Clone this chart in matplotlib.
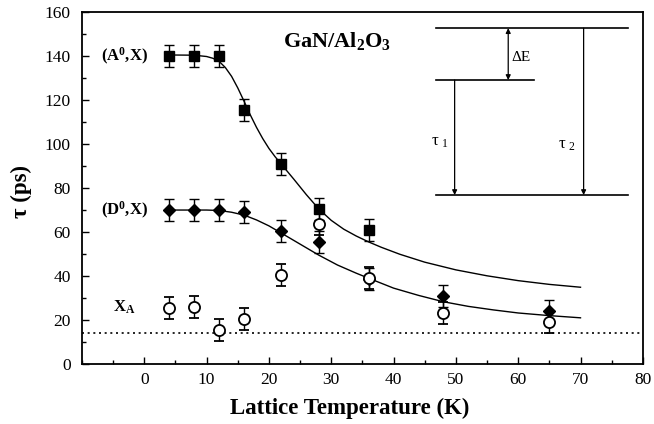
import matplotlib
matplotlib.use("Agg")
import matplotlib.pyplot as plt
from matplotlib.ticker import MultipleLocator, FixedLocator

plt.rcParams['font.family'] = ['Liberation Serif', 'DejaVu Serif']
plt.rcParams['mathtext.fontset'] = 'custom'
plt.rcParams['mathtext.rm'] = 'Liberation Serif'
plt.rcParams['mathtext.it'] = 'Liberation Serif:italic'
plt.rcParams['mathtext.bf'] = 'Liberation Serif:bold'

# ---- data ----
T_A = [4, 8, 12, 16, 22, 28, 36]
tau_A = [140, 140, 140, 115.5, 91, 70.5, 60.7]
err_A = [5, 5, 5, 5, 5, 5, 5]

T_D = [4, 8, 12, 16, 22, 28, 36, 48, 65]
tau_D = [70, 70, 70, 69.3, 60.3, 55.3, 38.8, 30.7, 24.2]
err_D = [5, 5, 5, 5, 5, 5, 5, 5, 5]

T_X = [4, 8, 12, 16, 22, 28, 36, 48, 65]
tau_X = [25.4, 25.7, 15.5, 20.5, 40.5, 63.6, 39.3, 23.0, 19.2]
err_X = [5, 5, 5, 5, 5, 5, 5, 5, 5]

fit_A_T = [4, 8, 10, 11, 12, 13, 14, 15, 16, 17, 18, 19, 20, 21, 22, 24, 26, 28, 30, 32,
           34, 36, 38, 41, 45, 50, 55, 60, 65, 70]
fit_A_tau = [140.5, 140.4, 139.8, 139.0, 137.6, 134.8, 130.8, 125.5, 119.5, 113.3, 107.6,
             102.5, 98.0, 94.2, 90.8, 84.0, 77.0, 70.5, 65.3, 61.3, 58.2, 55.5, 53.1, 49.9,
             46.3, 42.8, 40.1, 37.9, 36.2, 34.9]

fit_D_T = [4, 8, 10, 12, 14, 16, 18, 20, 22, 25, 28, 31, 34, 36, 40, 44, 48, 52, 56, 60, 65, 70]
fit_D_tau = [70, 70, 70, 69.8, 69, 67.7, 65.5, 62.8, 59.5, 54.5, 49.5, 45, 41.3, 39, 34.5,
             31.2, 28.3, 26.2, 24.6, 23.2, 22, 21]

baseline_tau = 14.3

fig = plt.figure(figsize=(6.54, 4.24), dpi=100)
ax = fig.add_axes([0.1254, 0.1415, 0.8575, 0.830])

ax.plot(fit_A_T, fit_A_tau, color='black', lw=1.0, zorder=2)
ax.plot(fit_D_T, fit_D_tau, color='black', lw=1.0, zorder=2)
ax.axhline(baseline_tau, color='black', lw=1.2, ls=(0, (1.2, 2.2)), zorder=1)

ekw = dict(ecolor='black', elinewidth=1.0, capsize=3.5, capthick=1.0, ls='none', zorder=3)
ax.errorbar(T_A, tau_A, yerr=err_A, marker='s', ms=7, mfc='black', mec='black', **ekw)
ax.errorbar(T_D, tau_D, yerr=err_D, marker='D', ms=6, mfc='black', mec='black', **ekw)
ax.errorbar(T_X, tau_X, yerr=err_X, marker='o', ms=8, mfc='white', mec='black', mew=1.3, **ekw)

# labels inside plot
ax.text(-3.2, 140, r"(A$^\mathbf{0}$,X)", fontsize=12, fontweight='bold', ha='center', va='center')
ax.text(-3.2, 70, r"(D$^\mathbf{0}$,X)", fontsize=12, fontweight='bold', ha='center', va='center')
ax.text(-3.3, 26, r"X$_\mathbf{A}$", fontsize=12, fontweight='bold', ha='center', va='center')
ax.text(31.0, 147, r"GaN/Al$_\mathbf{2}$O$_\mathbf{3}$", fontsize=16, fontweight='bold',
        ha='center', va='center')

# inset level diagram
ax.plot([46.8, 77.7], [152.7, 152.7], color='black', lw=1.2)
ax.plot([46.8, 62.6], [129.1, 129.1], color='black', lw=1.2)
ax.plot([46.8, 77.7], [76.8, 76.8], color='black', lw=1.2)
akw = dict(arrowstyle='-|>', color='black', lw=0.9, mutation_scale=7, shrinkA=0, shrinkB=0)
ax.annotate('', xy=(58.4, 152.7), xytext=(58.4, 129.1),
            arrowprops=dict(arrowstyle='<|-|>', color='black', lw=0.9, mutation_scale=7,
                            shrinkA=0, shrinkB=0))
ax.annotate('', xy=(49.8, 76.8), xytext=(49.8, 129.1), arrowprops=akw)
ax.annotate('', xy=(70.5, 76.8), xytext=(70.5, 152.7), arrowprops=akw)
ax.text(58.9, 139.5, "ΔE", fontsize=11, ha='left', va='center')
ax.text(47.5, 101, r"τ $_1$", fontsize=12, ha='center', va='center')
ax.text(67.8, 99.5, r"τ $_2$", fontsize=12, ha='center', va='center')

ax.set_xlim(-10, 80)
ax.set_ylim(0, 160)
ax.xaxis.set_major_locator(FixedLocator([0, 10, 20, 30, 40, 50, 60, 70, 80]))
ax.xaxis.set_minor_locator(MultipleLocator(5))
ax.yaxis.set_major_locator(MultipleLocator(20))
ax.yaxis.set_minor_locator(MultipleLocator(10))
ax.tick_params(which='both', direction='in', top=False, right=False, labelsize=12.5, width=1.0)
ax.tick_params(which='major', length=5)
ax.tick_params(which='minor', length=3)
ax.tick_params(axis='y', which='major', pad=8)
ax.tick_params(axis='x', which='major', pad=6)
for s in ax.spines.values():
    s.set_linewidth(1.3)

ax.set_xlabel("Lattice Temperature (K)", fontsize=16.5, fontweight='bold')
ax.xaxis.set_label_coords(0.478, -0.095)
ax.set_ylabel("τ (ps)", fontsize=16.5, fontweight='bold')
ax.yaxis.set_label_coords(-0.09, 0.49)

fig.savefig("out.png", dpi=100)
